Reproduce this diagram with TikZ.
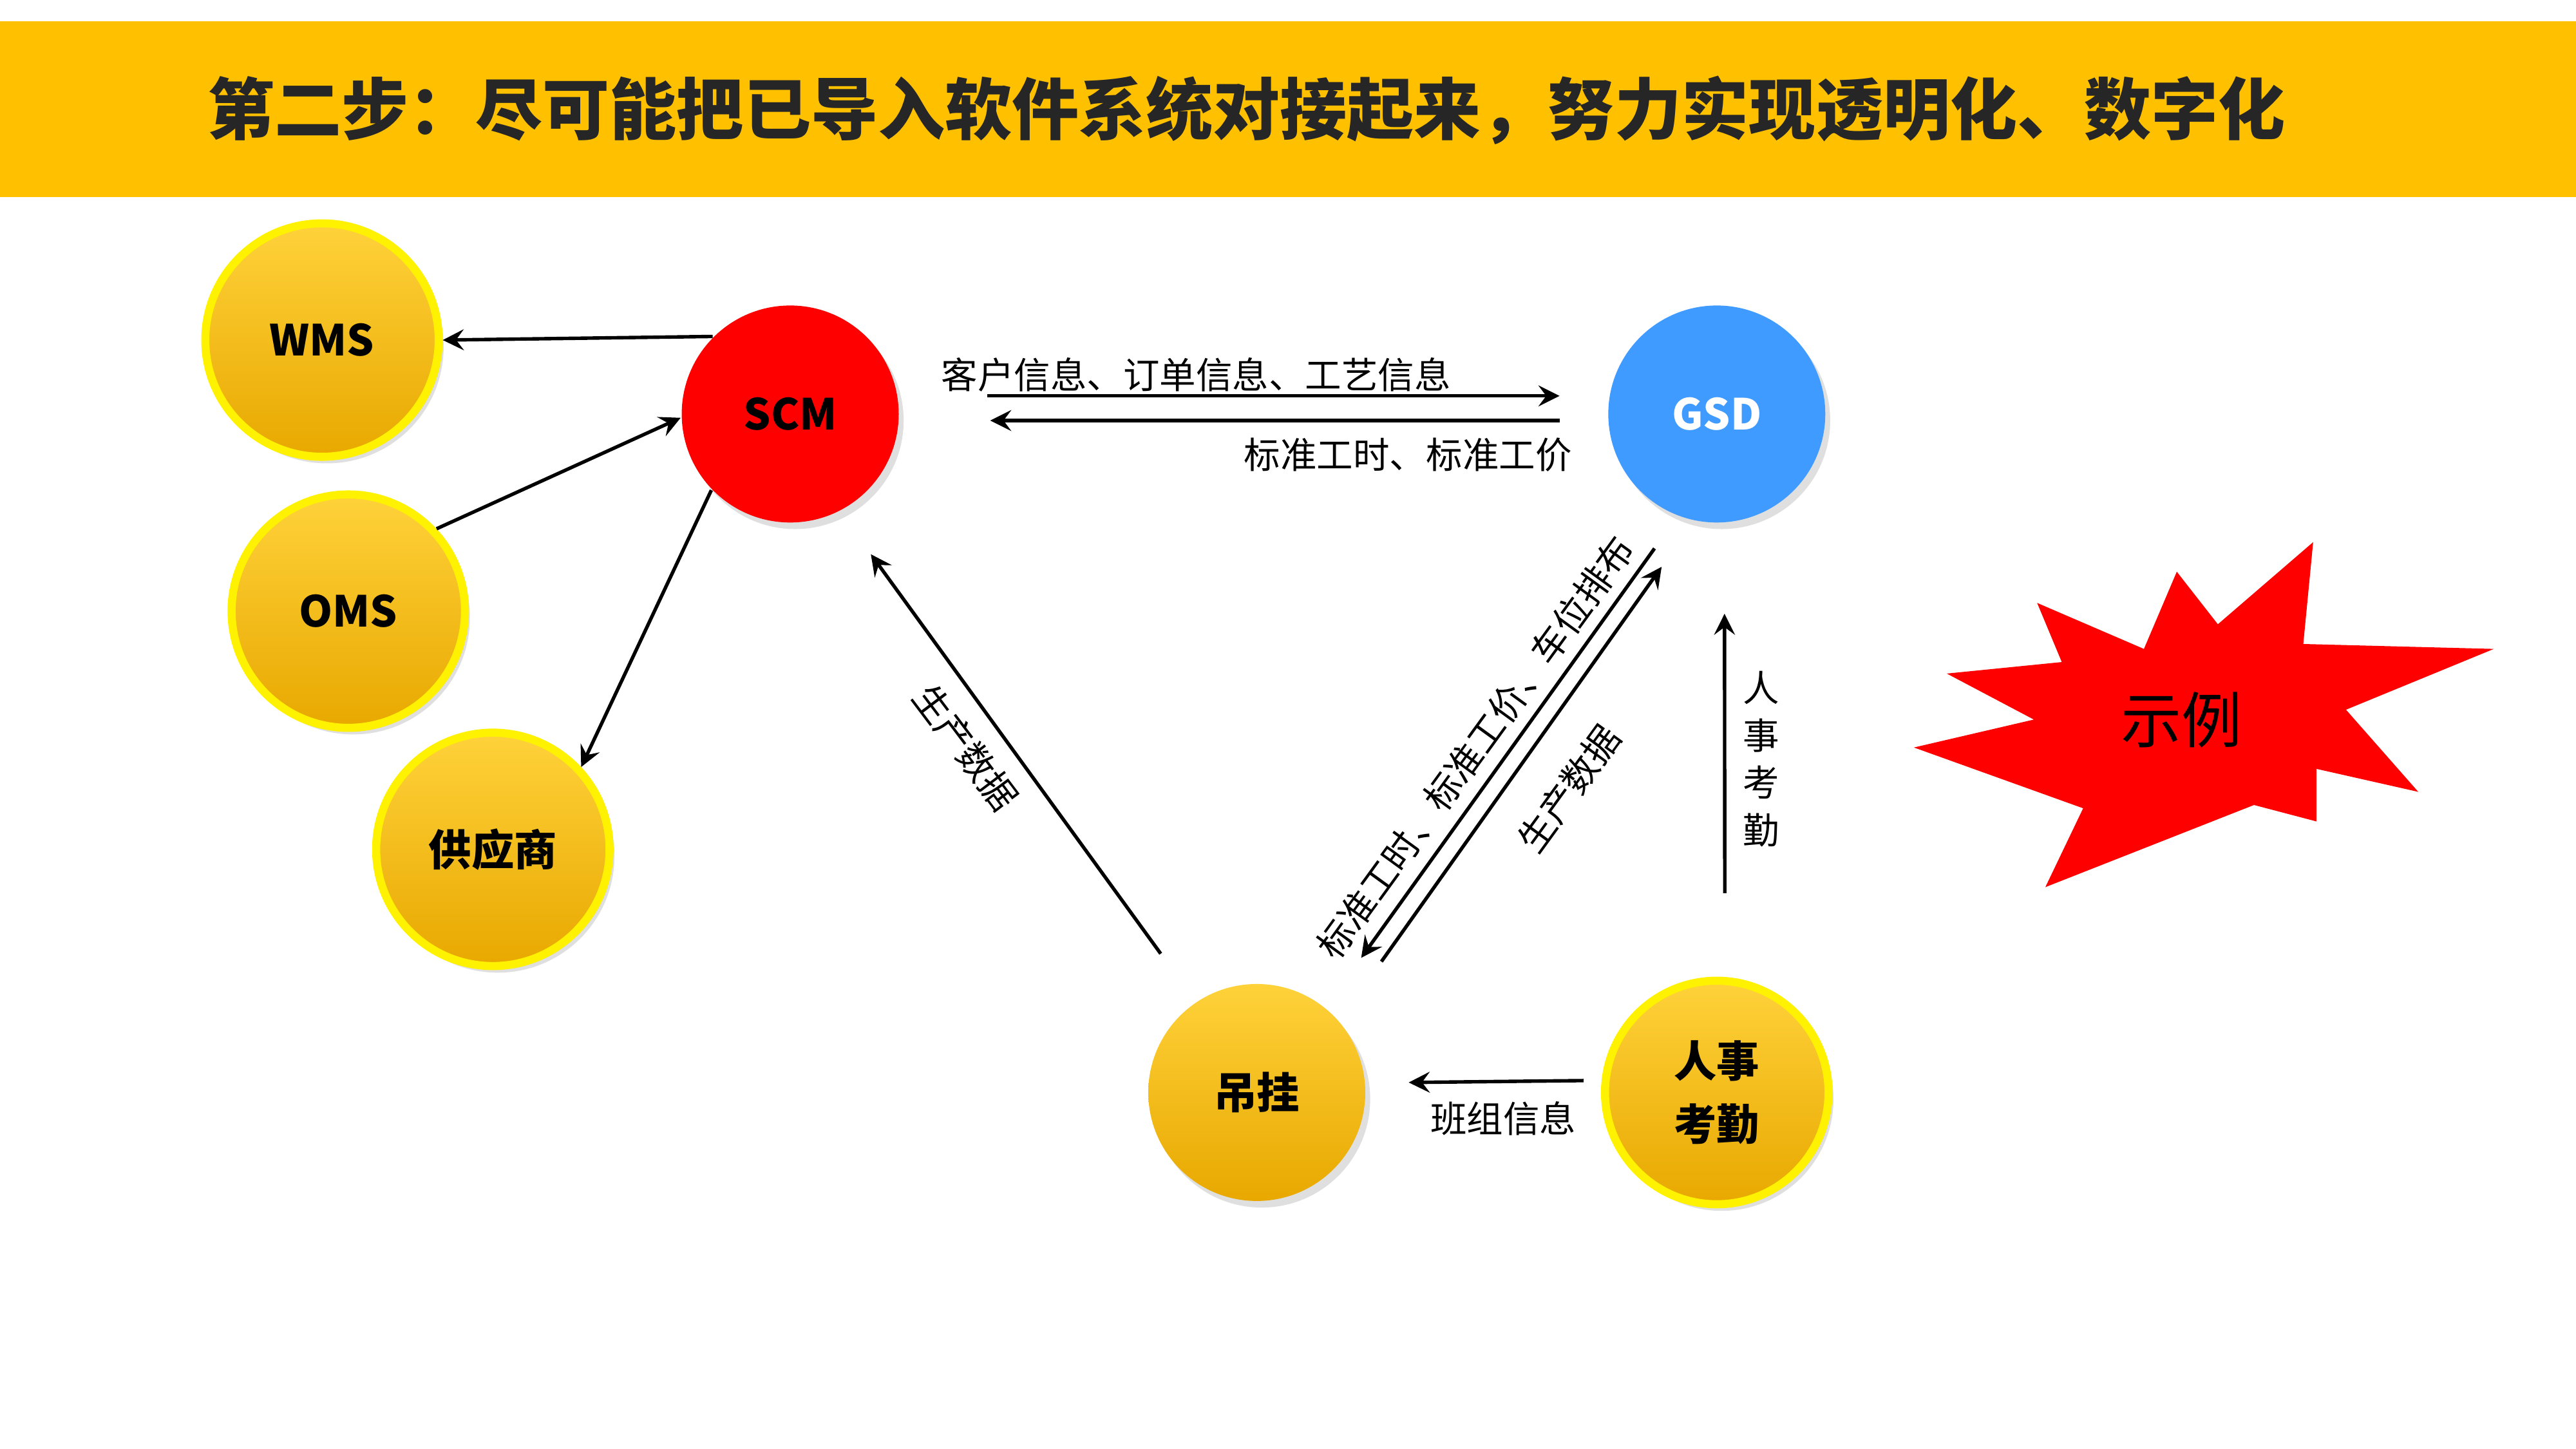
\documentclass[tikz,border=0pt]{standalone}
\usepackage{fontspec}
\setmainfont{Noto Sans CJK SC}
\usetikzlibrary{arrows,shapes,shadows}
\definecolor{bar}{HTML}{FFC000}
\definecolor{balltop}{HTML}{FFD23A}
\definecolor{ballbot}{HTML}{E8A800}
\definecolor{gsdblue}{HTML}{3F9BFF}
\begin{document}
\begin{tikzpicture}[x=0.01cm,y=-0.01cm,
    ball/.style={circle, draw=yellow, line width=1.4pt, top color=balltop, bottom color=ballbot,
      minimum size=1.42cm, font=\fontsize{7.4}{9}\selectfont\bfseries,
      drop shadow={opacity=0.25, shadow xshift=0.03cm, shadow yshift=-0.04cm}},
    hub/.style={circle, minimum size=1.32cm, font=\fontsize{7.4}{9}\selectfont\bfseries,
      drop shadow={opacity=0.25, shadow xshift=0.03cm, shadow yshift=-0.04cm}},
    lbl/.style={font=\fontsize{6.3}{7.5}\selectfont, inner sep=1pt},
    link/.style={->, >=stealth, semithick}]
  \useasboundingbox (0,0) rectangle (1568,882);
  \fill[white] (0,0) rectangle (1568,882);
  % title bar
  \fill[bar] (0,13) rectangle (1568,120);
  \node[anchor=west, font=\fontsize{11.6}{13}\selectfont\bfseries, text=black!85] (title) at (114,67)
    {第二步：尽可能把已导入软件系统对接起来，努力实现透明化、数字化};
  % nodes
  \node[ball] (wms) at (196,207) {WMS};
  \node[ball] (oms) at (212,372) {OMS};
  \node[ball] (supplier) at (300,517) {供应商};
  \node[hub, fill=red] (scm) at (481,252) {SCM};
  \node[hub, fill=gsdblue, text=white] (gsd) at (1045,252) {GSD};
  \node[hub, top color=balltop, bottom color=ballbot] (hanger) at (765,665) {吊挂};
  \node[ball, minimum size=1.36cm, align=center, font=\fontsize{7.4}{11}\selectfont\bfseries] (hr) at (1045,665) {人事\\考勤};
  % connectors
  \draw[link] (scm.135) -- (wms.0);
  \draw[link] (oms.43) -- (scm.182);
  \draw[link] (scm.224) -- (supplier.43);
  \draw[link] ([shift={(53,-11)}]scm.east) -- ([shift={(-29,-11)}]gsd.west);
  \draw[link] ([shift={(-29,4)}]gsd.west) -- ([shift={(55,4)}]scm.east);
  \draw[link, shorten <=0.36cm, shorten >=0.32cm] (hanger.124) -- (scm.-63);
  \draw[link, shorten <=0.24cm, shorten >=0.37cm] (gsd.249) -- (hanger.51);
  \draw[link, shorten <=0.44cm, shorten >=0.34cm] (hanger.41) -- (gsd.258);
  \draw[link, shorten <=0.51cm, shorten >=0.55cm] (hr.86) -- (gsd.274);
  \draw[link, shorten <=0.11cm, shorten >=0.26cm] (hr.174) -- (hanger.5);
  % labels
  \node[lbl] (l1) at (728,228) {客户信息、订单信息、工艺信息};
  \node[lbl] (l2) at (857,277) {标准工时、标准工价};
  \node[lbl, rotate=-53] (l3) at (588,455) {生产数据};
  \node[lbl, rotate=54] (l4) at (898,455) {标准工时、标准工价、车位排布};
  \node[lbl, rotate=54] (l5) at (955,480) {生产数据};
  \node[lbl, align=center, font=\fontsize{6.3}{8.2}\selectfont] (l6) at (1072,462) {人\\事\\考\\勤};
  \node[lbl] (l7) at (915,681) {班组信息};
  % burst
  \fill[red] (1240,367) -- (1305,395) -- (1325,348) -- (1350,380) -- (1408,330) -- (1402,392)
    -- (1518,395) -- (1428,432) -- (1472,482) -- (1410,468) -- (1410,500) -- (1372,490)
    -- (1245,540) -- (1268,492) -- (1165,455) -- (1238,438) -- (1185,410) -- (1255,403) -- cycle;
  \node[font=\fontsize{10.5}{12}\selectfont] (example) at (1328,438) {示例};
\end{tikzpicture}
\end{document}
